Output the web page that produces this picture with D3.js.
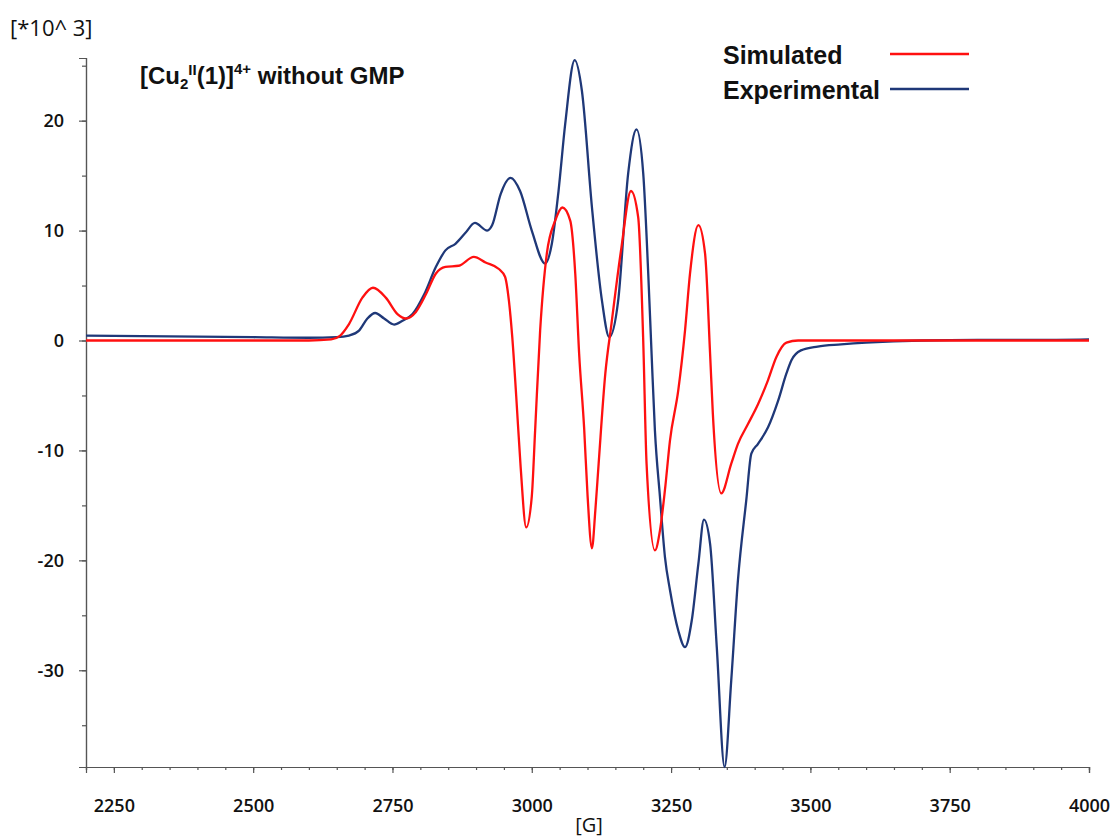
<!DOCTYPE html>
<html>
<head>
<meta charset="utf-8">
<script src="https://cdn.jsdelivr.net/npm/d3@7"></script>
<style>
  html, body { margin: 0; padding: 0; background: #fff; }
  svg { display: block; }
</style>
</head>
<body>
<div id="chart"></div>
<script>
// ---- Data (magnetic field in G, signal in units of 10^3) ----
const simField = [2200, 2400, 2600, 2640, 2655, 2672, 2696, 2715, 2738, 2759, 2774, 2792, 2810, 2828, 2845, 2869, 2896, 2917, 2941, 2952, 2959, 2965, 2972, 2980, 2990, 3000, 3006, 3015, 3027, 3042, 3055, 3069, 3078, 3085, 3094, 3100, 3108, 3114, 3120, 3132, 3143, 3161, 3178, 3191, 3200, 3206, 3221, 3230, 3239, 3248, 3263, 3275, 3284, 3299, 3311, 3320, 3325, 3340, 3358, 3370, 3388, 3406, 3424, 3439, 3457, 3478, 3600, 3800, 4000];
const simSignal = [0, 0, 0, 0.1, 0.4, 1.5, 3.9, 4.8, 3.9, 2.4, 2.0, 2.6, 4.2, 6.1, 6.7, 6.8, 7.6, 7.1, 6.5, 5.8, 3.6, 0.3, -5, -11.5, -17.0, -14.2, -8.2, 0.9, 7.9, 10.9, 12.1, 10.9, 6.1, -1.2, -8, -14, -18.9, -15.5, -11.2, -3.0, 1.5, 8.5, 13.6, 11.2, 0, -11.2, -19.1, -17.3, -13.6, -9.1, -4.5, 0.9, 6.1, 10.5, 7.9, -1.2, -6.7, -13.9, -11.2, -9.4, -7.6, -5.8, -3.6, -1.5, -0.2, 0, 0, 0, 0];

const expField = [2200, 2300, 2400, 2500, 2600, 2650, 2672, 2690, 2705, 2719, 2735, 2753, 2768, 2786, 2807, 2828, 2845, 2863, 2881, 2898, 2920, 2929, 2944, 2962, 2979, 3000, 3024, 3036, 3048, 3060, 3077, 3090, 3108, 3126, 3139, 3155, 3173, 3188, 3200, 3209, 3215, 3221, 3230, 3239, 3248, 3263, 3275, 3287, 3299, 3309, 3320, 3332, 3346, 3358, 3370, 3385, 3394, 3406, 3424, 3442, 3457, 3466, 3483, 3513, 3555, 3600, 3700, 3800, 3900, 4000];
const expSignal = [0.45, 0.4, 0.35, 0.3, 0.25, 0.3, 0.45, 0.9, 2.0, 2.5, 2.0, 1.45, 1.8, 2.4, 4.2, 6.7, 8.2, 8.8, 9.8, 10.7, 10.0, 10.5, 13.3, 14.8, 13.6, 10.0, 7.0, 8.8, 13.6, 19.7, 25.5, 22.7, 12.1, 3.6, 0.3, 3.6, 15.2, 19.2, 15.2, 6.1, -1.2, -8.2, -14.2, -19.7, -22.7, -26.4, -27.9, -25.5, -20.3, -16.3, -18.5, -27.9, -38.8, -30.9, -21.8, -14.5, -10.3, -9.4, -7.9, -5.5, -3.0, -1.8, -0.9, -0.55, -0.36, -0.2, 0.0, 0.05, 0.05, 0.1];

const xMajorTicks = [2250, 2500, 2750, 3000, 3250, 3500, 3750, 4000];
const xMinorTicks = d3.range(2200, 4001, 50);
const yMajorTicks = [-30, -20, -10, 0, 10, 20];
const yMinorTicks = [-35, -30, -25, -20, -15, -10, -5, 0, 5, 10, 15, 20, 25];
const seriesNames = ["Simulated", "Experimental"];
const xDomain = [2200, 4000];
const yDomain = [-38.8, 25.7];

// ---- Layout ----
const W = 1110, H = 840;
const mLeft = 86, mRight = 1089, mTop = 58, mBottom = 767;
const RED = "#ff1010", BLUE = "#1f3878";
const AXIS = "#555";

const svg = d3.select("#chart").append("svg").attr("width", W).attr("height", H);
svg.append("rect").attr("width", W).attr("height", H).attr("fill", "#fff");

const x = d3.scaleLinear().domain(xDomain).range([mLeft, mRight]);
const y = d3.scaleLinear().domain(yDomain).range([mBottom, mTop]);

const tickFont = "'Open Sans', 'DejaVu Sans', sans-serif";
const plainFmt = d => String(d);

const gxMinor = svg.append("g").attr("transform", `translate(0,${mBottom})`)
  .call(d3.axisBottom(x).tickValues(xMinorTicks).tickSize(3).tickFormat(""));
const gx = svg.append("g").attr("transform", `translate(0,${mBottom})`)
  .call(d3.axisBottom(x).tickValues(xMajorTicks).tickSize(6).tickPadding(26).tickFormat(plainFmt));
const gyMinor = svg.append("g").attr("transform", `translate(${mLeft},0)`)
  .call(d3.axisLeft(y).tickValues(yMinorTicks).tickSize(4).tickFormat(""));
const gy = svg.append("g").attr("transform", `translate(${mLeft},0)`)
  .call(d3.axisLeft(y).tickValues(yMajorTicks).tickSize(7).tickPadding(15).tickFormat(plainFmt));

[gxMinor, gx, gyMinor, gy].forEach(g => {
  g.select(".domain").attr("stroke", AXIS).attr("stroke-width", 1.2);
  g.selectAll(".tick line").attr("stroke", AXIS).attr("stroke-width", 1.2);
  g.selectAll(".tick text").attr("fill", "#111").style("font-family", tickFont)
    .style("font-size", "18px").style("font-weight", 600);
});

// ---- Curves ----
const line = d3.line().x(d => x(d[0])).y(d => y(d[1])).curve(d3.curveMonotoneX);
const expData = expField.map((f, i) => [f, expSignal[i]]);
const simData = simField.map((f, i) => [f, simSignal[i]]);

svg.append("path").datum(expData).attr("d", line)
  .attr("fill", "none").attr("stroke", BLUE).attr("stroke-width", 2.3).attr("stroke-linejoin", "round");
svg.append("path").datum(simData).attr("d", line)
  .attr("fill", "none").attr("stroke", RED).attr("stroke-width", 2.3).attr("stroke-linejoin", "round");

// ---- Texts ----
svg.append("text").attr("x", 10).attr("y", 36).text("[*10^ 3]")
  .style("font-family", tickFont).style("font-size", "22px").attr("fill", "#111");

svg.append("text").attr("x", 589).attr("y", 832).attr("text-anchor", "middle").text("[G]")
  .style("font-family", tickFont).style("font-size", "20px").attr("fill", "#111");

const titleFont = "'Liberation Sans', Arial, sans-serif";
const title = svg.append("text").attr("x", 140).attr("y", 84)
  .style("font-family", titleFont).style("font-size", "24px").style("font-weight", "bold").attr("fill", "#111");
title.append("tspan").text("[Cu");
title.append("tspan").attr("dy", 5).style("font-size", "15px").text("2");
title.append("tspan").attr("dy", -14).style("font-size", "15px").text("II");
title.append("tspan").attr("dy", 9).text("(1)]");
title.append("tspan").attr("dy", -10).style("font-size", "15px").text("4+");
title.append("tspan").attr("dy", 10).text(" without GMP");

// Legend
const legend = svg.append("g");
const legendY = [55, 90];
const legendColors = [RED, BLUE];
seriesNames.forEach((name, i) => {
  legend.append("text").attr("x", 723).attr("y", legendY[i] + 9).text(name)
    .style("font-family", titleFont).style("font-size", "25px").style("font-weight", "bold").attr("fill", "#111");
  legend.append("line").attr("x1", 890).attr("x2", 969).attr("y1", legendY[i] - 1).attr("y2", legendY[i] - 1)
    .attr("stroke", legendColors[i]).attr("stroke-width", 2.3);
});
</script>
</body>
</html>
